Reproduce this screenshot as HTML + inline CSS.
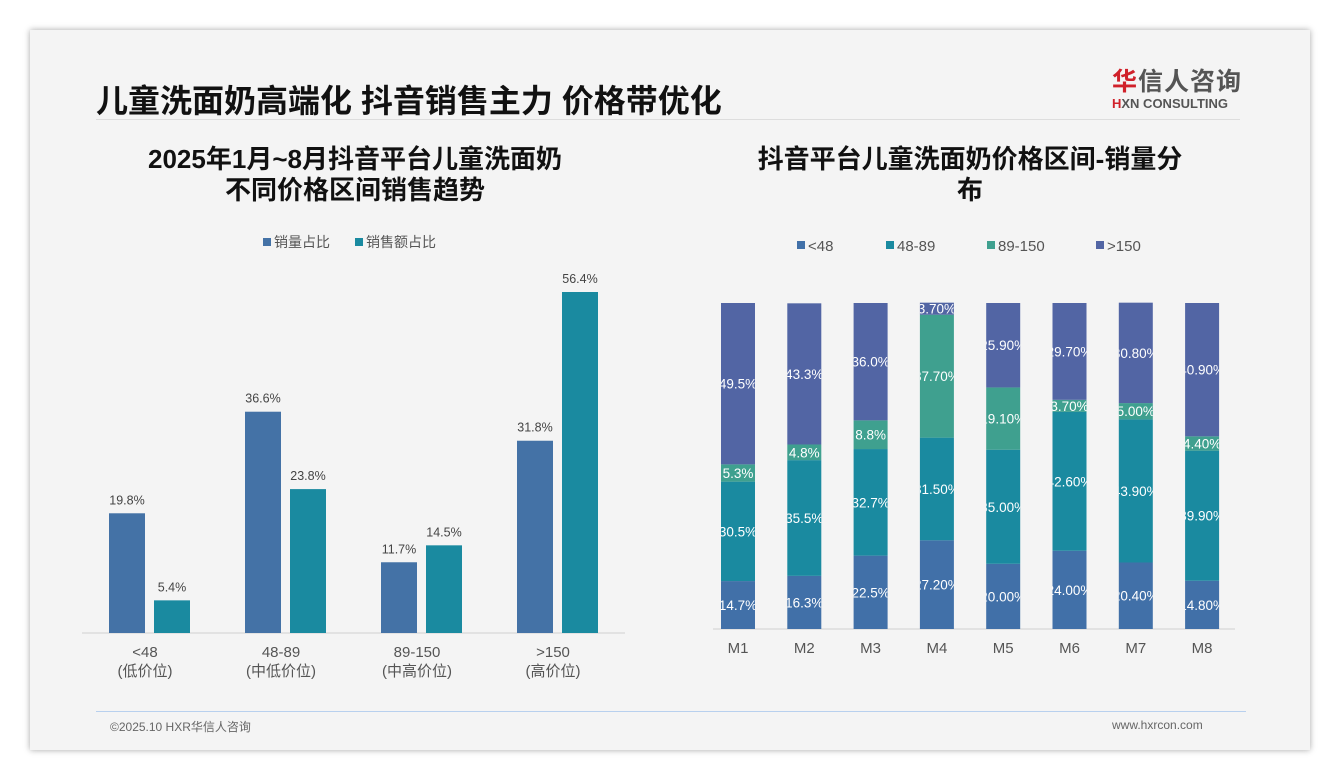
<!DOCTYPE html>
<html><head><meta charset="utf-8"><style>
body{margin:0;width:1340px;height:780px;background:#fff;font-family:"Liberation Sans","Noto Sans CJK SC",sans-serif;position:relative;overflow:hidden}
.card{position:absolute;left:30px;top:30px;width:1280px;height:720px;background:#f4f4f4;box-shadow:0 0 6px rgba(0,0,0,.35)}
.abs{position:absolute}
</style></head><body>
<div class="card"></div>
<div class="abs" style="left:96px;top:76px;font-size:32px;font-weight:bold;color:#111;white-space:nowrap">儿童洗面奶高端化 抖音销售主力 价格带优化</div>
<div class="abs" style="left:1112px;top:62px;width:135px">
<div style="font-size:25px;font-weight:bold;color:#555;letter-spacing:1px"><span style="color:#d0212a">华</span>信人咨询</div>
<div style="font-size:13px;font-weight:bold;color:#555;margin-top:-2px"><span style="color:#d0212a">H</span>XN CONSULTING</div></div>
<div class="abs" style="left:96px;top:119px;width:1144px;height:1px;background:#ddd"></div>
<div class="abs" style="left:80px;top:144px;width:550px;text-align:center;font-size:26px;font-weight:bold;color:#111;line-height:31px">2025年1月~8月抖音平台儿童洗面奶<br>不同价格区间销售趋势</div>
<div class="abs" style="left:700px;top:144px;width:540px;text-align:center;font-size:26px;font-weight:bold;color:#111;line-height:31px">抖音平台儿童洗面奶价格区间-销量分<br>布</div>
<div class="abs" style="left:96px;top:711px;width:1150px;height:1px;background:#b8d0ee"></div>
<div class="abs" style="left:110px;top:718px;font-size:12px;color:#666">©2025.10 HXR华信人咨询</div>
<div class="abs" style="left:1112px;top:718px;font-size:12px;color:#666">www.hxrcon.com</div>
<svg id="chart" width="1340" height="780" style="position:absolute;left:0;top:0"></svg>
<script>
const leftCats=["<48","48-89","89-150",">150"];
const leftSub=["(低价位)","(中低价位)","(中高价位)","(高价位)"];
const volShare=[19.8,36.6,11.7,31.8];
const salesShare=[5.4,23.8,14.5,56.4];
const months=["M1","M2","M3","M4","M5","M6","M7","M8"];
const segLow=[14.7,16.3,22.5,27.2,20.0,24.0,20.4,14.8];
const segMid=[30.5,35.5,32.7,31.5,35.0,42.6,43.9,39.9];
const segHigh=[5.3,4.8,8.8,37.7,19.1,3.7,5.0,4.4];
const segTop=[49.5,43.3,36.0,3.7,25.9,29.7,30.8,40.9];
const segLabelsFmt=["1","1","1","2","2","2","2","2"];

const NS="http://www.w3.org/2000/svg";
const svg=document.getElementById("chart");
function mk(tag,attrs,parent){const e=document.createElementNS(NS,tag);for(const k in attrs)e.setAttribute(k,attrs[k]);(parent||svg).appendChild(e);return e;}
function txt(s,x,y,size,fill,anchor,parent){const t=mk("text",{x:x,y:y,"font-size":size,fill:fill,"text-anchor":anchor||"middle","font-family":"Liberation Sans, Noto Sans CJK SC, sans-serif"},parent);t.textContent=s;return t;}

// left chart
const lBase=633, lScale=341/56.4;
const ly=v=>lBase-v*lScale;
const lx=i=>145+i*136;
const ax=mk("line",{x1:82,x2:625,y1:lBase,y2:lBase,stroke:"#d0d0d0"});


[["销量占比","#4472a6",263],["销售额占比","#1a8aa0",355]].forEach(([n,c,x])=>{
 const r=mk("rect",{x:x,y:238,width:8,height:8,fill:c});
 
 
 const t=txt(n,x+11,247,14,"#555","start");
 
 
});
leftCats.forEach((c,i)=>{
 const cx=lx(i);
 const b1=mk("rect",{x:cx-36,y:ly(volShare[i]),width:36,height:volShare[i]*lScale,fill:"#4472a6"});
 
 
 const b2=mk("rect",{x:cx+9,y:ly(salesShare[i]),width:36,height:salesShare[i]*lScale,fill:"#1a8aa0"});
 
 
 const l1=txt(volShare[i].toFixed(1)+"%",cx-18,ly(volShare[i])-9,12.5,"#444");
 
 
 const l2=txt(salesShare[i].toFixed(1)+"%",cx+27,ly(salesShare[i])-9,12.5,"#444");
 
 
 const t1=txt(c,cx,657,15,"#555");
 
 
 const t2=txt(leftSub[i],cx,676,15,"#555");
 
 
});

// right stacked chart
const rBase=629, rScale=326/100;
const rx=i=>738+i*66.3;
const ax2=mk("line",{x1:713,x2:1235,y1:rBase,y2:rBase,stroke:"#d0d0d0"});


const series=[["<48",segLow,"#4170a8"],["48-89",segMid,"#1a8aa0"],["89-150",segHigh,"#3fa08f"],[">150",segTop,"#5265a4"]];
const legX=[797,886,987,1096];
series.forEach((s,k)=>{
 const r=mk("rect",{x:legX[k],y:241,width:8,height:8,fill:s[2]});
 
 
 const t=txt(s[0],legX[k]+11,251,15,"#555","start");
 
 
});
const defs=mk("defs",{});
months.forEach((m,i)=>{
 const cx=rx(i), w=34;
 const cp=mk("clipPath",{id:"cp"+i},defs);
 mk("rect",{x:cx-w/2,y:250,width:w,height:400},cp);
 let acc=0;
 series.forEach(s=>{
  const v=s[1][i];
  const y0=rBase-(acc+v)*rScale;
  const r=mk("rect",{x:cx-w/2,y:y0,width:w,height:v*rScale,fill:s[2]});
  
  
  const label=(segLabelsFmt[i]==="1"?v.toFixed(1):v.toFixed(2))+"%";
  const t=txt(label,cx,y0+v*rScale/2+5,13.5,"#fff","middle");
  t.setAttribute("clip-path","url(#cp"+i+")");
  
  
  acc+=v;
 });
 const t=txt(m,cx,653,15,"#555");
 
 
});
</script>
</body></html>
